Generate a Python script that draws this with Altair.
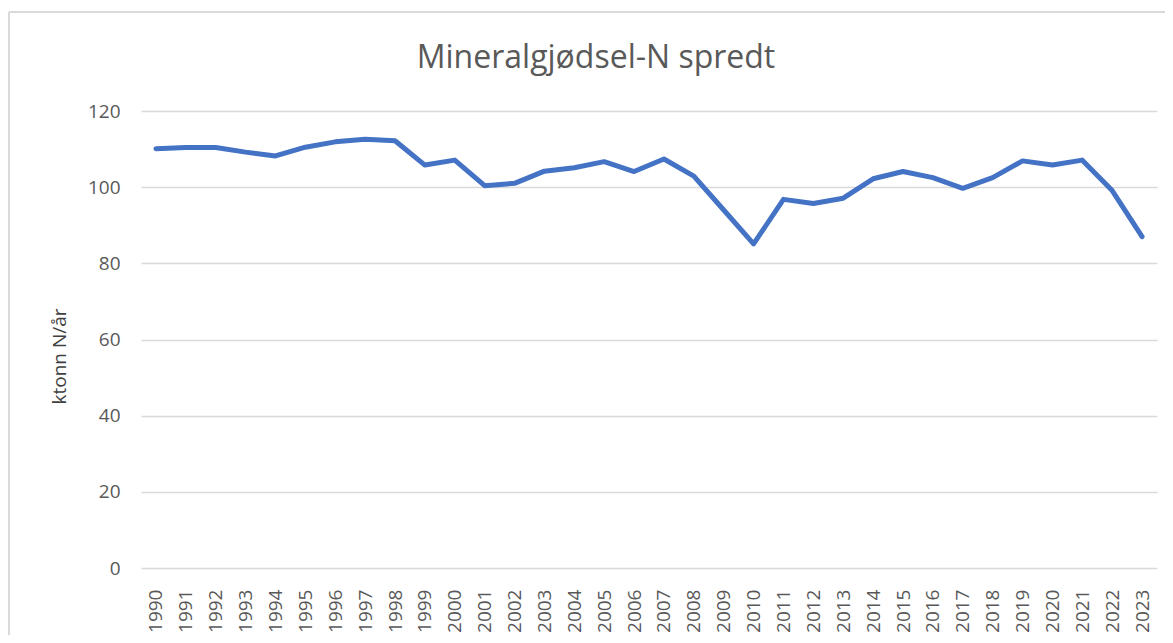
import altair as alt
import pandas as pd

years = [str(y) for y in range(1990, 2024)]
values = [110.1, 110.4, 110.4, 109.2, 108.2, 110.5, 111.9, 112.6, 112.2, 105.8,
          107.1, 100.4, 101.0, 104.2, 105.1, 106.7, 104.1, 107.4, 102.9, 94.0,
          85.1, 96.8, 95.7, 97.1, 102.2, 104.1, 102.5, 99.7, 102.5, 106.9,
          105.8, 107.1, 99.1, 87.0]
y_ticks = [0, 20, 40, 60, 80, 100, 120]

df = pd.DataFrame({"year": years, "value": values})

FONT = "Open Sans"
GREY = "#595959"

line = alt.Chart(df).mark_line(
    color="#4472C4", strokeWidth=5, strokeCap="round", strokeJoin="round"
).encode(
    x=alt.X("year:O", sort=years,
            axis=alt.Axis(title=None, labelAngle=-90, labelFontSize=19, labelColor=GREY,
                          labelFont=FONT, ticks=False, tickSize=0, domain=False,
                          labelPadding=21, grid=False)),
    y=alt.Y("value:Q", scale=alt.Scale(domain=[0, 120], nice=False),
            axis=alt.Axis(values=y_ticks, title="ktonn N/år", titleFontSize=19,
                          titleFont=FONT, titleColor="#404040", titleFontWeight="normal",
                          titleAngle=-90, titleX=-76, titleY=245, titleBaseline="alphabetic",
                          titleAlign="center",
                          labelFontSize=19, labelColor=GREY, labelFont=FONT,
                          ticks=False, tickSize=0, domain=False, labelPadding=21,
                          grid=True, gridColor="#d9d9d9", gridWidth=1.5)),
)

border_top = alt.Chart(df).mark_rule(color="#d9d9d9", strokeWidth=1.5).encode(
    x=alt.value(-132), x2=alt.value(1030), y=alt.value(-99)
)
border_left = alt.Chart(df).mark_rule(color="#d9d9d9", strokeWidth=1.5).encode(
    x=alt.value(-132), y=alt.value(-99), y2=alt.value(540)
)

chart = alt.layer(border_top, border_left, line).properties(
    width=1016, height=457,
    title=alt.TitleParams("Mineralgjødsel-N spredt", font=FONT, fontSize=32,
                          fontWeight="normal", color=GREY, anchor="middle",
                          frame="group", baseline="alphabetic", offset=-89, dx=-53),
    padding={"left": 133, "top": 103, "right": 8, "bottom": 67},
    autosize=alt.AutoSizeParams(type="none"),
).configure_view(stroke=None)

chart.save("out.html", embed_options={"renderer": "svg", "actions": False})
